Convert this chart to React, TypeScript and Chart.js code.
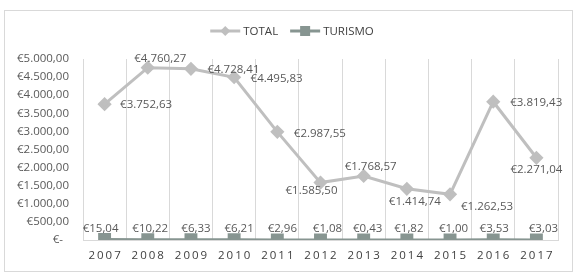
import React, { useEffect, useRef } from 'react';
import { Chart, registerables } from 'chart.js';

Chart.register(...registerables);

const years = ['2007', '2008', '2009', '2010', '2011', '2012', '2013', '2014', '2015', '2016', '2017'];
const totalValues = [3752.63, 4760.27, 4728.41, 4495.83, 2987.55, 1585.5, 1768.57, 1414.74, 1262.53, 3819.43, 2271.04];
const turismoValues = [15.04, 10.22, 6.33, 6.21, 2.96, 1.08, 0.43, 1.82, 1.0, 3.53, 3.03];
const seriesNames = ['TOTAL', 'TURISMO'];
const yMin = 0;
const yMax = 5000;
const yStep = 500;

// label placement offsets (dx, dy) from each point, in px
const totalLabelOffsets = [
  [41.5, 1], [12.5, -9], [42.5, 1], [42.5, 1], [42.5, 2], [-9, 8],
  [7, -9], [8, 13], [37, 12], [43, 1], [0, 12],
];
const turismoLabelOffsets = [
  [-4, -11], [2.5, -11], [5, -11], [5, -11], [5, -11], [7, -11],
  [4, -11], [2, -11], [3.5, -11], [1, -11], [7, -11],
];

const FONT = '"Open Sans", "Noto Sans", sans-serif';
const FONT_SIZE = 11.5;
const TEXT_COLOR = '#595959';
const AXIS_TEXT_COLOR = '#404040';
const TOTAL_COLOR = '#BFBFBF';
const TURISMO_COLOR = '#879591';
const GRID_COLOR = '#D9D9D9';

function fmtEuro(v: number): string {
  if (v === 0) return '€-  ';
  const fixed = Math.abs(v).toFixed(2);
  const [intPart, dec] = fixed.split('.');
  const withDots = intPart.replace(/\B(?=(\d{3})+(?!\d))/g, '.');
  return '€' + withDots + ',' + dec;
}

const offsetsFor = [totalLabelOffsets, turismoLabelOffsets];

const decorPlugin = {
  id: 'decor',
  beforeDraw(chart: any) {
    const ctx = chart.ctx;
    ctx.save();
    ctx.fillStyle = '#ffffff';
    ctx.fillRect(0, 0, chart.width, chart.height);
    ctx.strokeStyle = GRID_COLOR;
    ctx.lineWidth = 1;
    ctx.strokeRect(4.5, 10.5, 568, 261);
    ctx.restore();
  },
  afterDraw(chart: any) {
    const ctx = chart.ctx;
    const xScale = chart.scales.x;
    ctx.save();
    // x tick labels with letter spacing
    ctx.font = `${FONT_SIZE}px ${FONT}`;
    ctx.fillStyle = AXIS_TEXT_COLOR;
    ctx.textAlign = 'center';
    ctx.textBaseline = 'middle';
    try { (ctx as any).letterSpacing = '2px'; } catch (e) {}
    years.forEach((lab, i) => {
      const x = xScale.getPixelForValue(i);
      ctx.fillText(lab, x + 1, chart.chartArea.bottom + 16);
    });
    try { (ctx as any).letterSpacing = '0px'; } catch (e) {}

    // legend
    ctx.font = `${FONT_SIZE}px ${FONT}`;
    ctx.textAlign = 'left';
    const legendY = 31;
    const sampleW = 30;
    const gapText = 3;
    const gapItems = 12;
    const widths = seriesNames.map((n) => sampleW + gapText + ctx.measureText(n).width);
    const total = widths.reduce((a, b) => a + b, 0) + gapItems * (seriesNames.length - 1);
    let x = 292 - total / 2;
    chart.data.datasets.forEach((ds: any, i: number) => {
      ctx.strokeStyle = ds.borderColor;
      ctx.lineWidth = 3;
      ctx.beginPath();
      ctx.moveTo(x, legendY);
      ctx.lineTo(x + sampleW, legendY);
      ctx.stroke();
      ctx.fillStyle = ds.pointBackgroundColor;
      const cx = x + sampleW / 2;
      if (ds.pointStyle === 'rectRot') {
        ctx.beginPath();
        ctx.moveTo(cx, legendY - 5);
        ctx.lineTo(cx + 5, legendY);
        ctx.lineTo(cx, legendY + 5);
        ctx.lineTo(cx - 5, legendY);
        ctx.closePath();
        ctx.fill();
      } else {
        ctx.fillRect(cx - 5, legendY - 5, 10, 10);
      }
      ctx.fillStyle = AXIS_TEXT_COLOR;
      ctx.fillText(ds.label, x + sampleW + gapText, legendY + 1);
      x += widths[i] + gapItems;
    });
    ctx.restore();
  },
  afterDatasetsDraw(chart: any) {
    const ctx = chart.ctx;
    ctx.save();
    ctx.font = `${FONT_SIZE}px ${FONT}`;
    ctx.fillStyle = TEXT_COLOR;
    ctx.textAlign = 'center';
    ctx.textBaseline = 'middle';
    chart.data.datasets.forEach((ds: any, di: number) => {
      const meta = chart.getDatasetMeta(di);
      meta.data.forEach((pt: any, i: number) => {
        const off = offsetsFor[di][i];
        ctx.fillText(fmtEuro(ds.data[i]), pt.x + off[0], pt.y + off[1]);
      });
    });
    ctx.restore();
  },
};

export default function App() {
  const ref = useRef<HTMLCanvasElement | null>(null);
  useEffect(() => {
    if (!ref.current) return;
    const chart = new Chart(ref.current, {
      type: 'line',
      data: {
        labels: years,
        datasets: [
          {
            label: seriesNames[0],
            data: totalValues,
            borderColor: TOTAL_COLOR,
            backgroundColor: TOTAL_COLOR,
            pointBackgroundColor: TOTAL_COLOR,
            pointBorderColor: TOTAL_COLOR,
            pointStyle: 'rectRot',
            pointRadius: 5,
            borderWidth: 3,
            tension: 0,
          },
          {
            label: seriesNames[1],
            data: turismoValues,
            borderColor: TURISMO_COLOR,
            backgroundColor: TURISMO_COLOR,
            pointBackgroundColor: TURISMO_COLOR,
            pointBorderColor: TURISMO_COLOR,
            pointStyle: 'rect',
            pointRadius: 7,
            borderWidth: 3,
            tension: 0,
          },
        ],
      },
      options: {
        responsive: false,
        animation: false,
        devicePixelRatio: 1,
        layout: { padding: { left: 0, right: 19, top: 59, bottom: 0 } },
        plugins: {
          legend: { display: false },
          tooltip: { enabled: false },
        },
        scales: {
          x: {
            type: 'category',
            offset: true,
            grid: { display: true, offset: true, color: GRID_COLOR, drawTicks: false, lineWidth: 1 },
            border: { display: true, color: GRID_COLOR },
            ticks: { display: false },
            afterFit: (s: any) => { s.height = 40; },
          },
          y: {
            min: yMin,
            max: yMax,
            grid: { display: false, drawTicks: false },
            border: { display: false },
            ticks: {
              stepSize: yStep,
              padding: 14,
              color: TEXT_COLOR,
              font: { family: FONT, size: FONT_SIZE },
              callback: (v: any) => fmtEuro(Number(v)),
            },
            afterFit: (s: any) => { s.width = 83; },
          },
        },
      },
      plugins: [decorPlugin],
    });
    return () => chart.destroy();
  }, []);
  return (
    <div style={{ position: 'absolute', left: 0, top: 0, width: 577, height: 280 }}>
      <canvas ref={ref} width={577} height={280} style={{ display: 'block' }} />
    </div>
  );
}
